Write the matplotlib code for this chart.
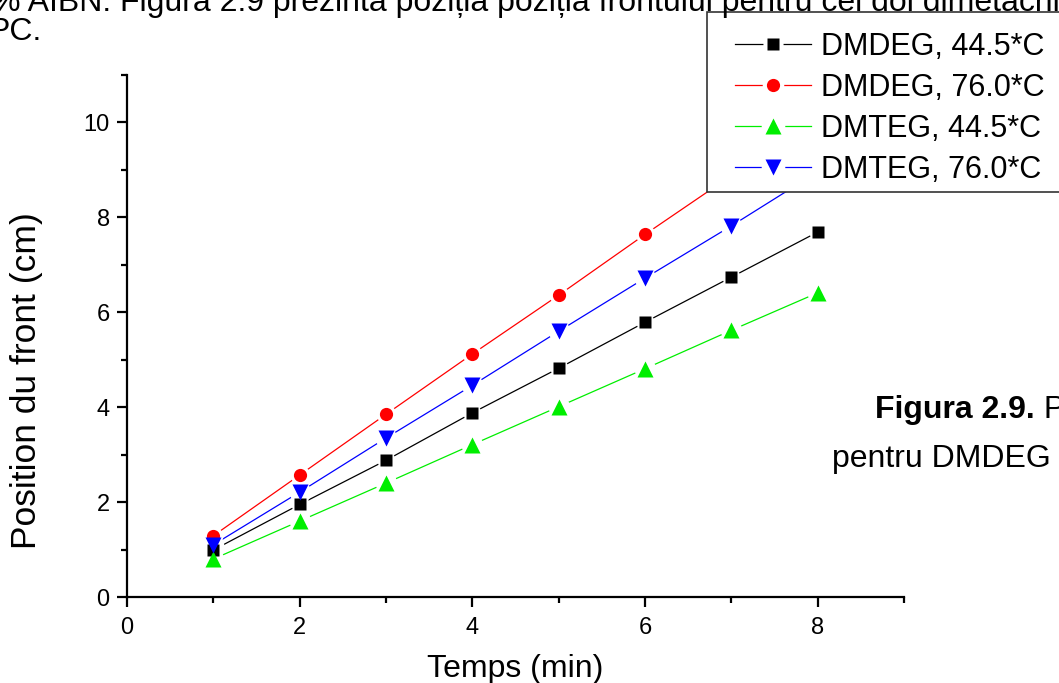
import matplotlib
matplotlib.use("Agg")
import matplotlib.pyplot as plt
from matplotlib.lines import Line2D
from matplotlib.patches import Rectangle
from matplotlib.legend_handler import HandlerTuple
from matplotlib.ticker import MultipleLocator

plt.rcParams['font.family'] = ['Liberation Sans', 'DejaVu Sans']

# ---- data ----
time_min = [1, 2, 3, 4, 5, 6, 7, 8]
dmdeg_445 = [0.99, 1.95, 2.88, 3.88, 4.82, 5.79, 6.74, 7.69]
dmdeg_760 = [1.29, 2.57, 3.85, 5.12, 6.36, 7.64, 8.88, 10.15]
dmteg_445 = [0.80, 1.60, 2.40, 3.21, 4.01, 4.81, 5.62, 6.41]
dmteg_760 = [1.10, 2.21, 3.35, 4.46, 5.60, 6.72, 7.82, 8.96]
series_labels = ["DMDEG, 44.5*C", "DMDEG, 76.0*C", "DMTEG, 44.5*C", "DMTEG, 76.0*C"]
x_label = "Temps (min)"
y_label = "Position du front (cm)"
doc_line1 = "% AIBN. Figura 2.9 prezintă poziția poziția frontului pentru cei doi dimetacrilați"
doc_line2 = "PC."
caption_bold = "Figura 2.9."
caption_rest = " P"
caption_line2 = "pentru DMDEG"

series = [dmdeg_445, dmdeg_760, dmteg_445, dmteg_760]
colors = ["#000000", "#ff0000", "#00ee00", "#0000ff"]
markers = ["s", "o", "^", "v"]
msizes = [8.5, 9.5, 11, 11]

W, H = 1059, 683
fig = plt.figure(figsize=(W / 100, H / 100), dpi=100)
ax = fig.add_axes([127 / W, 1 - 597 / H, (904 - 127) / W, (597 - 75) / H])

for ys, c, m, ms in zip(series, colors, markers, msizes):
    ax.plot(time_min, ys, color=c, lw=0.9, zorder=2)
for ys, c, m, ms in zip(series, colors, markers, msizes):
    ax.plot(time_min, ys, linestyle='none', marker='o', ms=ms + 4.5,
            mfc='white', mec='none', zorder=3)
for ys, c, m, ms in zip(series, colors, markers, msizes):
    ax.plot(time_min, ys, linestyle='none', marker=m, ms=ms,
            mfc=c, mec='none', zorder=4)

ax.set_xlim(0, 9)
ax.set_ylim(0, 11)
ax.xaxis.set_major_locator(MultipleLocator(2))
ax.xaxis.set_minor_locator(MultipleLocator(1))
ax.yaxis.set_major_locator(MultipleLocator(2))
ax.yaxis.set_minor_locator(MultipleLocator(1))
for s in ['top', 'right']:
    ax.spines[s].set_visible(False)
for s in ['left', 'bottom']:
    ax.spines[s].set_linewidth(1.6)
ax.tick_params(which='major', direction='out', length=7.5, width=1.6, labelsize=17)
ax.tick_params(axis='x', which='major', pad=7)
ax.tick_params(axis='y', which='major', pad=5)
ax.tick_params(which='minor', direction='out', length=4, width=1.6)
ax.set_xlabel(x_label, fontsize=23, labelpad=11)

fig.text(27 / W, 1 - 381 / H, y_label, fontsize=25.5, rotation=90,
         ha='center', va='center')

# legend box (extends past right edge)
rect = Rectangle((707 / W, 1 - 192 / H), 400 / W, 180 / H, transform=fig.transFigure,
                 facecolor='white', edgecolor='#333333', lw=1.2, zorder=3)
fig.patches.append(rect)

handles = []
for c, m, ms in zip(colors, markers, msizes):
    ln = Line2D([], [], color=c, lw=0.9)
    halo = Line2D([], [], linestyle='none', marker='o', ms=ms + 6, mfc='white', mec='none')
    mk = Line2D([], [], linestyle='none', marker=m, ms=ms, mfc=c, mec='none')
    handles.append((ln, halo, mk))
leg = fig.legend(handles, series_labels,
                 handler_map={tuple: HandlerTuple(ndivide=1, pad=0)},
                 loc='upper left', bbox_to_anchor=(735 / W, 1 - 32 / H),
                 bbox_transform=fig.transFigure, frameon=False, fontsize=22,
                 borderpad=0, borderaxespad=0, handlelength=2.5, handletextpad=0.3,
                 labelspacing=0.36)
leg.set_zorder(5)

# surrounding document text
fig.text(-8 / W, 1 - 11 / H, doc_line1, fontsize=23, ha='left', va='baseline')
fig.text(-12 / W, 1 - 40 / H, doc_line2, fontsize=23, ha='left', va='baseline')
t = fig.text(875 / W, 1 - 418 / H, caption_bold, fontsize=23, fontweight='bold',
             ha='left', va='baseline')
fig.canvas.draw()
bb = t.get_window_extent()
fig.text(bb.x1 / W, 1 - 418 / H, caption_rest, fontsize=23, ha='left', va='baseline')
fig.text(832 / W, 1 - 467 / H, caption_line2, fontsize=23, ha='left', va='baseline')

fig.savefig("out.png", dpi=100)
